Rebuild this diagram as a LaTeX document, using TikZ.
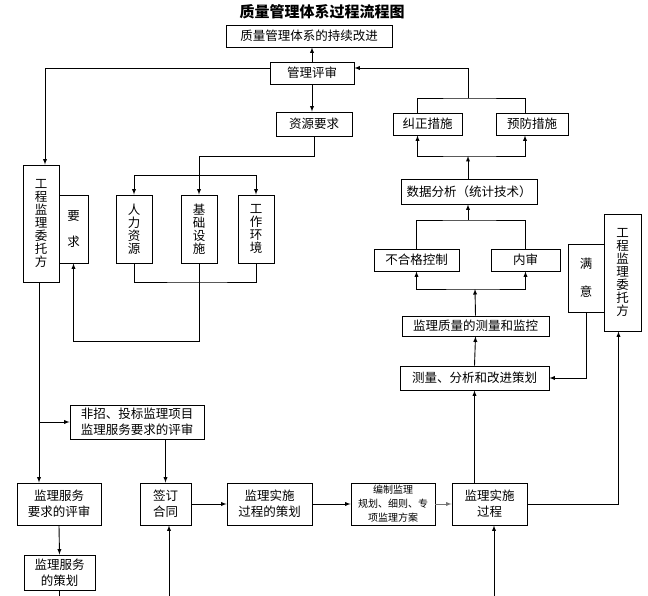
\documentclass[tikz,border=0pt]{standalone}
\usepackage{fontspec}
\setmainfont{Noto Sans CJK SC}
\usetikzlibrary{arrows}

\begin{document}
\begin{tikzpicture}[x=1pt, y=-1pt, >=latex, line width=0.9pt,
    box/.style={draw, inner sep=0pt, align=center, font=\fontsize{12.5}{16}\selectfont},
    vbox/.style={box, font=\fontsize{12.5}{13}\selectfont}]
    \useasboundingbox (0,0) rectangle (648,596);

    \node [font=\fontsize{15}{18}\selectfont\bfseries] (title) at (322,12) {质量管理体系过程流程图};
    \node [box, minimum width=166pt, minimum height=22pt] (gx) at (309,36) {质量管理体系的持续改进};
    \node [box, minimum width=84pt, minimum height=22pt] (gl) at (312,73) {管理评审};
    \node [box, minimum width=76pt, minimum height=24pt] (zy) at (314,124) {资源要求};
    \node [box, minimum width=69pt, minimum height=22pt] (jz) at (427.5,124) {纠正措施};
    \node [box, minimum width=72pt, minimum height=22pt] (yf) at (532,124) {预防措施};
    \node [box, minimum width=136pt, minimum height=25pt] (sj) at (469,191.5) {数据分析（统计技术）};
    \node [box, minimum width=85pt, minimum height=22pt] (bh) at (416.5,260) {不合格控制};
    \node [box, minimum width=69pt, minimum height=22pt] (ns) at (525.5,260) {内审};
    \node [box, minimum width=147pt, minimum height=20pt] (jc) at (475.5,326) {监理质量的测量和监控};
    \node [box, minimum width=149pt, minimum height=24pt] (cl) at (474.5,378) {测量、分析和改进策划};
    \node [vbox, minimum width=36pt, minimum height=68pt] (my) at (586,278) {满\\[15pt]意};
    \node [vbox, minimum width=37pt, minimum height=117pt] (wtr) at (622.5,272.5) {工\\程\\监\\理\\委\\托\\方};

    \node [vbox, minimum width=36pt, minimum height=117pt] (wtl) at (41,223.5) {工\\程\\监\\理\\委\\托\\方};
    \node [vbox, minimum width=29pt, minimum height=68pt] (yq) at (73.5,229) {要\\[13pt]求};
    \node [vbox, minimum width=36pt, minimum height=68pt] (rl) at (134,229) {人\\力\\资\\源};
    \node [vbox, minimum width=36pt, minimum height=68pt] (jcss) at (199,229) {基\\础\\设\\施};
    \node [vbox, minimum width=36pt, minimum height=68pt] (gz) at (256,229) {工\\作\\环\\境};

    \node [box, minimum width=134pt, minimum height=34pt] (fz) at (137,422) {非招、投标监理项目\\监理服务要求的评审};
    \node [box, minimum width=84pt, minimum height=42pt] (ps) at (59,504) {监理服务\\要求的评审};
    \node [box, minimum width=51pt, minimum height=42pt] (qd) at (165.5,504) {签订\\合同};
    \node [box, minimum width=85pt, minimum height=42pt] (ch) at (269.5,504) {监理实施\\过程的策划};
    \node [box, minimum width=84pt, minimum height=42pt, font=\fontsize{10}{14}\selectfont] (bz) at (393,504) {编制监理\\规划、细则、专\\项监理方案};
    \node [box, minimum width=75pt, minimum height=42pt] (ss) at (489.5,504) {监理实施\\过程};
    \node [box, minimum width=71pt, minimum height=35pt] (fw) at (59.5,572.5) {监理服务\\的策划};

    \draw [->] (gl.north) -- (gl.north |- gx.south);
    \draw [->] (gl.south) -- (gl.south |- zy.north);
    \draw [->] ([yshift=5pt]gl.west) -| ([xshift=4pt]wtl.north);

    \coordinate (jt) at (468,98);
    \draw ([xshift=-10pt]jz.north) |- (jt) -| ([xshift=-7pt]yf.north);
    \draw [->] (jt) |- ([yshift=5pt]gl.east);
    \coordinate (jb) at (468,156);
    \draw [<->] ([xshift=-10pt]jz.south) |- (jb) -| ([xshift=-7pt]yf.south);
    \draw [->] (jb |- sj.north) -- (jb);
    \coordinate (bt) at (468,220);
    \draw (bh.north) |- (bt) -| (ns.north);
    \draw [->] (bt) -- (bt |- sj.south);
    \coordinate (bb) at (475,289);
    \draw [<->] (bh.south) |- (bb) -| (ns.south);
    \draw [->] (jc.north) -- (bb);
    \draw [->] (cl.north) -- (jc.south);
    \draw [->] (my.south) |- (cl.east);
    \draw [->] (ss.east) -| ([xshift=-4pt]wtr.south);
    \draw [->] (cl.south |- ss.north) -- (cl.south);

    \coordinate (zt) at (199,175);
    \draw (zy.south) -- ++(0,20) -| (zt);
    \draw [->] (zt) -- (jcss.north);
    \draw [->] (zt) -| (rl.north);
    \draw [->] (zt) -| (gz.north);
    \coordinate (zb) at (199,282);
    \draw (rl.south) |- (zb) -| (gz.south);
    \draw (jcss.south) -- (zb);
    \draw [->] (zb) -- ++(0,59) -| (yq.south);

    \draw [->] ([xshift=-2pt]wtl.south) -- ([xshift=-2pt]wtl.south |- ps.north);
    \draw [->] ([xshift=-2pt]wtl.south |- fz.west) -- (fz.west);
    \draw [->] (qd.north |- fz.south) -- (qd.north);
    \draw [->] (qd.east) -- (ch.west);
    \draw [->] (ch.east) -- (bz.west);
    \draw [->, black!55] (bz.east) -- (ss.west);
    \draw [->] (ps.south) -- (fw.north);
    \draw (fw.south) -- ++(0,6);
    \coordinate (qdin) at (169,596);
    \draw [->] (qdin) -- (qdin |- qd.south);
    \coordinate (ssin) at (494,596);
    \draw [->] (ssin) -- (ssin |- ss.south);
  \end{tikzpicture}
\end{document}
